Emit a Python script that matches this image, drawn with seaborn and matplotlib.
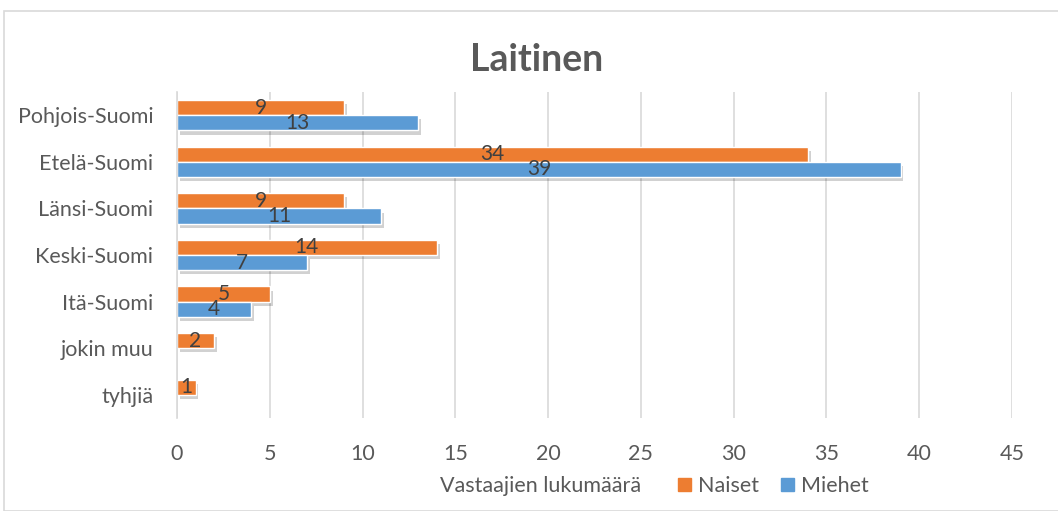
import matplotlib
matplotlib.use("Agg")
import matplotlib.pyplot as plt
import matplotlib.patheffects as pe
from matplotlib.patches import Rectangle
import seaborn as sns
import pandas as pd
import numpy as np

# data
alueet = ["Pohjois-Suomi", "Etelä-Suomi", "Länsi-Suomi", "Keski-Suomi",
          "Itä-Suomi", "jokin muu", "tyhjiä"]
naiset = [9, 34, 9, 14, 5, 2, 1]
miehet = [13, 39, 11, 7, 4, None, None]
sarjat = ["Naiset", "Miehet"]
xticks = [0, 5, 10, 15, 20, 25, 30, 35, 40, 45]

sns.set_theme(style="white")
plt.rcParams['font.family'] = ['Lato', 'DejaVu Sans']

rows = []
for a, n, m in zip(alueet, naiset, miehet):
    rows.append({"Alue": a, "Sukupuoli": "Naiset", "Määrä": n})
    rows.append({"Alue": a, "Sukupuoli": "Miehet", "Määrä": m})
df = pd.DataFrame(rows).dropna()

fig = plt.figure(figsize=(10.58, 5.11), dpi=100)
ax = fig.add_axes([177 / 1058, 1 - 418 / 511, (1012 - 177) / 1058, (418 - 92) / 511])

colors = {"Naiset": "#ED7D31", "Miehet": "#5B9BD5"}
sns.barplot(data=df, y="Alue", x="Määrä", hue="Sukupuoli", order=alueet,
            hue_order=sarjat, palette=colors, orient="h", width=0.65,
            saturation=1, errorbar=None, ax=ax, legend=False)

shadow = [pe.SimplePatchShadow(offset=(2, -3), shadow_rgbFace="#000000", alpha=0.18),
          pe.Normal()]
for cont in ax.containers:
    for p in cont:
        p.set_path_effects(shadow)
    ax.bar_label(cont, label_type="center", fontsize=15, color="#404040")

ax.set_xlim(0, 45)
ax.set_xticks(xticks)
ax.set_ylim(6.5, -0.5)
ax.grid(axis="x", color="#D9D9D9", linewidth=1.2)
ax.set_axisbelow(True)
for s in ["top", "right", "bottom"]:
    ax.spines[s].set_visible(False)
ax.spines["left"].set_color("#D9D9D9")
ax.spines["left"].set_linewidth(1.2)
ax.tick_params(axis="both", length=0, labelsize=15.5, colors="#595959")
ax.tick_params(axis="x", pad=19)
ax.tick_params(axis="y", pad=17)
ax.set_ylabel("")
ax.set_xlabel("Vastaajien lukumäärä", fontsize=15.5, color="#595959")
ax.xaxis.label.set_va("center")
ax.xaxis.set_label_coords((541 - 177) / (1012 - 177), -(486 - 418) / 326)

# legend in the same row as the axis title
handles = [Rectangle((0, 0), 1, 1, color=colors[s]) for s in sarjat]
fig.legend(handles, sarjat, loc="center left", bbox_to_anchor=(678 / 1058, 1 - 486 / 511),
           ncol=2, frameon=False, fontsize=15.5, handlelength=0.6, handleheight=0.6,
           handletextpad=0.35, columnspacing=1.0, labelcolor="#595959",
           borderpad=0, borderaxespad=0)

fig.text(537 / 1058, 1 - 60 / 511, "Laitinen", ha="center", va="center",
         fontsize=27, fontweight="bold", color="#595959")

# chart area border
fig.patches.append(Rectangle((4 / 1058, 0), 1.1, 1 - 11 / 511, transform=fig.transFigure,
                             fill=False, edgecolor="#D9D9D9", linewidth=1.2))

fig.savefig("out.png", dpi=100)
